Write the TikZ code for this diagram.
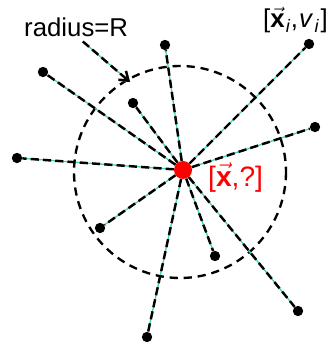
\documentclass[tikz,border=0pt]{standalone}
\usepackage{fontspec}
\setmainfont{Liberation Sans}
\usetikzlibrary{arrows.meta}
\definecolor{LinkCyan}{RGB}{60,212,185}
\definecolor{QueryRed}{RGB}{255,0,0}
\tikzset{
  sample/.style={circle,fill=black,inner sep=0pt,minimum size=0.31cm},
  query/.style={circle,fill=QueryRed,inner sep=0pt,minimum size=0.54cm},
  link/.style={draw=black,line width=2.1pt,dash pattern=on 7pt off 3.5pt,
    preaction={draw=LinkCyan,solid,line width=1.1pt}},
  rangeline/.style={draw=black,line width=2pt,dash pattern=on 7pt off 5pt},
  tag/.style={inner sep=0pt,font=\fontsize{22}{26}\selectfont}
}

\begin{document}
\begin{tikzpicture}[
  x=0.03cm,
  y=-0.03cm
]
\useasboundingbox (0,0) rectangle (332,344);

% search radius
\draw[rangeline] (180,172) circle [radius=106];

\node[query] (q) at (183,170) {};

\node[sample] (nb1) at (43,72) {};
\node[sample] (nb2) at (133,103) {};
\node[sample] (nb3) at (165,45) {};
\node[sample] (nb4) at (309,44) {};
\node[sample] (nb5) at (315,127) {};
\node[sample] (nb6) at (17,158) {};
\node[sample] (nb7) at (100,228) {};
\node[sample] (nb8) at (215,256) {};
\node[sample] (nb9) at (298,311) {};
\node[sample] (nb10) at (147,337) {};

\draw[link] (q) -- (nb1);
\draw[link] (q) -- (nb2);
\draw[link] (q) -- (nb3);
\draw[link] (q) -- (nb4);
\draw[link] (q) -- (nb5);
\draw[link] (q) -- (nb6);
\draw[link] (q) -- (nb7);
\draw[link] (q) -- (nb8);
\draw[link] (q) -- (nb9);
\draw[link] (q) -- (nb10);

% labels
\node[tag,anchor=base west] (rlabel) at (24,37) {radius=R};
\node[tag,anchor=base west] (xlabel) at (263,28)
  {[$\vec{\mbox{\textbf{x}}}$\textsubscript{\kern1pt\textit{i}},\kern1pt\textit{v}\textsubscript{\kern1pt\textit{i}}\kern1pt]};
\node[tag,anchor=base west,text=QueryRed,font=\fontsize{24}{28}\selectfont] (qlabel) at (208,186)
  {[$\vec{\mbox{\textbf{x}}}$,?]};

\coordinate (rtip) at (130,82);
\draw[link,-{Straight Barb[length=7pt,width=10pt]}] ([xshift=0.2cm,yshift=-0.12cm]rlabel.south) -- (rtip);

\end{tikzpicture}
\end{document}
